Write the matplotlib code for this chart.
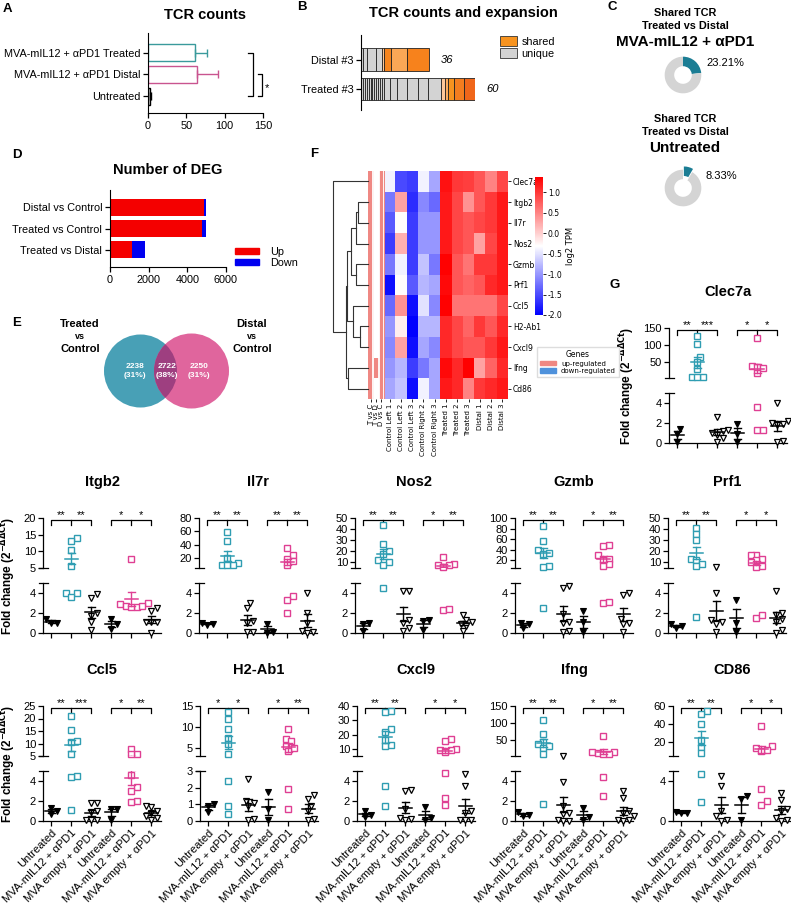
import numpy as np
import matplotlib
matplotlib.use('Agg')
import matplotlib.pyplot as plt
from matplotlib.patches import Circle, Patch
from matplotlib import transforms

plt.rcParams['font.family'] = ['Liberation Sans', 'DejaVu Sans']

# ---------------- data ----------------
# A: TCR counts (mean, upper error)
tcr_groups = ['Untreated', 'MVA-mIL12 + αPD1 Distal', 'MVA-mIL12 + αPD1 Treated']
tcr_mean = [2, 64, 61]
tcr_err = [2.5, 27, 16]

# B: clonotype sizes, unique first then shared
samples_b = ['Treated #3', 'Distal #3']
treated_unique = [1, 1, 1, 1, 1, 1, 1, 1, 1, 1, 1, 1, 3, 4, 5, 6, 5, 7]
treated_shared = [2, 2, 3, 5, 6]
distal_unique = [1, 2, 5, 3]
distal_shared = [1, 4, 8, 12]

# C: shared TCR fraction
donut_groups = ['MVA-mIL12 + \u03b1PD1', 'Untreated']
shared_pct = [23.21, 8.33]

# D: number of DEG
deg_labels = ['Treated vs Distal', 'Treated vs Control', 'Distal vs Control']
deg_up = [1140, 4750, 4870]
deg_down = [690, 210, 100]

# E: venn
venn_sets = ['Treated\nvs\nControl', 'Distal\nvs\nControl']
venn_counts = [2238, 2722, 2250]

# F: heatmap
heat_genes = ['Clec7a', 'Itgb2', 'Il7r', 'Nos2', 'Gzmb', 'Prf1', 'Ccl5', 'H2-Ab1', 'Cxcl9', 'Ifng', 'Cd86']
heat_samples = ['Control Left 1', 'Control Left 2', 'Control Left 3', 'Control Right 2', 'Control Right 3',
                'Treated 1', 'Treated 2', 'Treated 3', 'Distal 1', 'Distal 2', 'Distal 3']
heat_values = [
    [-0.4, -1.5, -1.6, -0.4, -0.9, 1.25, 1.0, 0.95, 0.8, 0.5, 0.9],
    [-1.2, 0.3, -1.7, -1.1, -1.3, 1.2, 0.9, 0.4, 0.8, 1.0, 1.2],
    [-1.4, -0.3, -1.6, -1.0, -1.0, 1.2, 0.9, 0.8, 0.9, 1.0, 1.2],
    [-1.6, 0.2, -1.6, -1.0, -1.0, 1.2, 0.9, 0.8, 0.3, 0.9, 1.2],
    [-1.2, -0.4, -1.6, -0.7, -1.2, 1.35, 0.8, 0.6, 1.0, 1.0, 1.2],
    [-1.9, -0.3, -1.4, -0.8, -0.9, 1.3, 0.8, 0.7, 0.8, 1.1, 1.2],
    [-1.3, 0.4, -1.9, -0.5, -1.1, 1.35, 0.6, 0.6, 0.6, 0.6, 0.9],
    [-1.0, -0.2, -2.0, -0.8, -0.8, 1.1, 0.9, 0.7, 1.0, 0.8, 1.1],
    [-1.1, 0.3, -1.9, -0.9, -1.1, 1.1, 0.9, 0.8, 0.8, 1.0, 1.2],
    [-1.0, -0.8, -1.6, -1.2, -0.9, 1.3, 1.1, 1.35, 0.3, 0.7, 1.1],
    [-0.9, -0.7, -1.9, -0.4, -0.9, 1.2, 1.1, 0.5, 1.0, 1.1, 1.2],
]
annot_labels = ['T vs C', 'T vs D', 'D vs C']
annot_t_vs_c = [1, 1, 1, 1, 1, 1, 1, 1, 1, 1, 1]
annot_t_vs_d = [0, 0, 0, 0, 0, 0, 0, 0, 0, 1, 0]
annot_d_vs_c = [1, 1, 1, 1, 1, 1, 1, 1, 1, 1, 1]
# linkage: (cluster a, cluster b, height), new clusters numbered from 11
dendro_merges = [(1, 2, 30), (11, 3, 37), (4, 5, 35), (12, 13, 50), (7, 8, 25),
                 (6, 15, 45), (14, 16, 63), (9, 10, 60), (17, 18, 67), (0, 19, 105)]

# G: qPCR fold change, groups = Untreated, MVA-mIL12+aPD1, MVA empty+aPD1 (treated, then distal)
group_labels = ['Untreated', 'MVA-mIL12 + \u03b1PD1', 'MVA empty + \u03b1PD1'] * 2
clec7a = [[1.4, 0.9, 0.1], [127, 104, 65, 50, 32, 9, 9, 8], [2.6, 1.3, 1.2, 1.0, 0.8, 0.5, 0.1],
          [1.9, 0.9, 0.05], [120, 40, 36, 33, 20, 3.6, 1.3, 1.3], [4.0, 2.2, 2.0, 1.9, 1.8, 0.2, 0.1]]
itgb2 = [[1.4, 1.05, 1.0], [13.9, 13.1, 10.4, 5.6, 4.0, 4.0, 3.6], [3.9, 3.5, 2.0, 1.7, 1.1, 0.3],
         [1.4, 0.9, 0.45], [7.6, 3.0, 2.9, 2.7, 2.6, 2.6, 2.7], [2.5, 2.2, 1.1, 1.1, 1.1, 0.05]]
il7r = [[1.0, 0.9, 0.85], [59, 45, 20, 12, 10, 9, 9], [3.0, 2.5, 1.2, 1.0, 0.15, 0.1],
        [0.95, 0.15, 0.05], [35, 24, 19, 15, 10, 3.7, 3.3, 2.0], [4.0, 2.0, 1.0, 0.2, 0.1, 0.05]]
nos2 = [[1.0, 0.9, 0.2], [44, 27, 20, 18, 12, 10, 8, 4.5], [4.2, 4.2, 1.3, 1.0, 0.5, 0.2],
        [1.3, 1.2, 0.3], [15, 8.5, 7.7, 7.7, 6, 2.3, 2.4], [1.8, 1.3, 1.1, 0.9, 0.7, 0.2]]
gzmb = [[1.0, 0.9, 0.5], [85, 56, 40, 34, 31, 9, 7, 2.5], [4.7, 4.5, 1.9, 1.1, 1.0, 0.1, 0.2],
        [2.2, 1.1, 0.1], [48, 46, 29, 23, 20, 12, 9, 3.0, 3.1], [4.0, 3.8, 1.4, 1.0, 0.9, 0.1]]
prf1 = [[0.9, 0.7, 0.5], [41, 36, 30, 13, 12, 9, 7, 1.6], [6.0, 4.0, 1.3, 1.1, 0.9, 0.1],
        [3.3, 1.0, 0.1], [17, 17, 13, 12, 10, 7, 6, 1.5, 1.8], [4.2, 2.0, 1.8, 1.4, 1.1, 0.3, 0.05]]
ccl5 = [[1.35, 1.0, 0.7], [21, 15.4, 11, 10.5, 6, 4.5, 4.4, 1.1], [1.8, 1.8, 1.0, 0.95, 0.1, 0.1, 0.1],
        [1.25, 1.2, 0.15], [8, 6, 5.8, 4.6, 3.4, 3.0, 2.0, 1.9], [1.5, 1.4, 1.0, 0.8, 0.5, 0.3, 0.1]]
h2ab1 = [[1.0, 0.9, 0.55], [13.6, 12, 9.4, 7.4, 6, 3.5, 2.4, 0.9, 0.45], [2.5, 1.2, 1.1, 0.9, 0.1, 0.05],
         [1.75, 0.75, 0.05], [9.5, 7.0, 6.5, 5.5, 5.0, 4.3, 1.95, 0.75], [1.55, 1.3, 0.9, 0.6, 0.1, 0.05]]
cxcl9 = [[1.0, 0.6, 0.4], [36.5, 35.5, 24, 22, 16, 13, 12, 3.5, 1.5], [3.1, 3.0, 1.2, 0.3, 0.25, 0.1],
         [1.4, 0.3, 0.1], [17, 15.5, 10, 9.5, 9, 8, 4.8, 2.3, 1.6], [4.7, 3.5, 1.0, 0.8, 0.15, 0.15, 0.1]]
ifng = [[0.95, 0.6, 0.5], [110, 68, 45, 40, 35, 28, 12, 1.7], [6, 3.9, 1.5, 0.8, 0.7, 0.1, 0.05, 0.05],
        [1.3, 0.4, 0.1], [63, 18, 16, 15, 12, 10, 4.4, 2.5], [3.0, 2.3, 1.0, 0.8, 0.5, 0.1, 0.1, 0.05]]
cd86 = [[0.95, 0.85, 0.8], [54, 51, 40, 23, 15, 8, 4.7, 1.9], [4.5, 3.5, 1.0, 0.5, 0.1, 0.05],
        [2.5, 2.2, 0.1], [38, 16, 14, 12, 11, 3.2, 2.0, 1.6], [2.8, 2.1, 1.2, 1.0, 0.3, 0.1, 0.05]]

# ---------------- styles ----------------
TEAL = '#2f9db2'
PINK = '#df3f93'
W, H = 791, 906
fig = plt.figure(figsize=(W / 100, H / 100), dpi=100)
fig.patch.set_facecolor('white')


def rect(left, top, width, height):
    return [left / W, 1 - (top + height) / H, width / W, height / H]


def ftext(x, y, s, **kw):
    fig.text(x / W, 1 - y / H, s, **kw)


def letter(x, y, s):
    ftext(x, y, s, fontsize=9.5, weight='bold', va='center', ha='left')


# ---------------- A ----------------
axA = fig.add_axes(rect(148, 33, 115, 80))
a_edges = ['black', '#c9548f', '#3a9a9c']
ya = np.arange(len(tcr_groups))
axA.barh(ya, tcr_mean, height=0.78, color='white', edgecolor=a_edges, linewidth=1)
for i in ya:
    axA.errorbar(tcr_mean[i], i, xerr=[[0], [tcr_err[i]]], fmt='none', ecolor=a_edges[i],
                 elinewidth=1, capsize=3, capthick=1)
axA.set_xlim(0, 150)
axA.set_ylim(-0.78, 2.9)
axA.set_xticks([0, 50, 100, 150])
axA.set_yticks(ya)
axA.set_yticklabels(tcr_groups)
axA.tick_params(labelsize=7.8, length=3.5, width=0.9, pad=2)
axA.spines[['top', 'right']].set_visible(False)
# significance brackets
axA.plot([130, 137, 137, 130], [2, 2, 0, 0], color='black', lw=0.9, clip_on=False)
axA.plot([143, 149, 149, 143], [1, 1, 0, 0], color='black', lw=0.9, clip_on=False)
axA.text(152, 0.35, '*', fontsize=8, ha='left', va='center')
ftext(205, 15, 'TCR counts', fontsize=10.5, weight='bold', ha='center', va='center')
letter(3, 9, 'A')

# ---------------- B ----------------
axB = fig.add_axes(rect(361, 35, 114, 75))
b_sets = [(treated_unique, treated_shared, ['#fcc79a', '#fbab5e', '#f7931f', '#f47d1f', '#f0661a']),
          (distal_unique, distal_shared, ['#fcc89a', '#f6841d', '#faa756', '#f7821c'])]
for yi, (uniq, shared, scol) in enumerate(b_sets):
    segs = list(uniq) + list(shared)
    cols = ['#d3d3d3'] * len(uniq) + scol
    lefts = np.concatenate([[0], np.cumsum(segs)[:-1]])
    axB.barh(yi, segs, left=lefts, height=0.76, color=cols, edgecolor='#222222', linewidth=0.6)
    total = int(np.sum(segs))
    axB.text(total + 6, yi, str(total), fontsize=8, style='italic', va='center', ha='left')
axB.set_xlim(0, 60)
axB.set_ylim(-0.71, 1.83)
axB.set_yticks([0, 1])
axB.set_yticklabels(samples_b)
axB.set_xticks([])
axB.tick_params(labelsize=7.8, length=3.5, width=0.9, pad=2)
axB.spines[['top', 'right', 'bottom']].set_visible(False)
fig.legend(handles=[Patch(facecolor='#f7931f', edgecolor='#333333', lw=0.6, label='shared'),
                    Patch(facecolor='#d3d3d3', edgecolor='#333333', lw=0.6, label='unique')],
           loc='upper left', bbox_to_anchor=(500 / W, 1 - 36 / H), frameon=False, fontsize=7.8,
           handlelength=1.6, handleheight=1.0, labelspacing=0.15, handletextpad=0.4,
           borderaxespad=0, borderpad=0)
ftext(463, 13, 'TCR counts and expansion', fontsize=10.5, weight='bold', ha='center', va='center')
letter(297, 7, 'B')

# ---------------- C ----------------
letter(607, 7, 'C')
donut_y = [75, 188]
title_y = [13, 119]
for k in range(2):
    ftext(685, title_y[k], 'Shared TCR', fontsize=7.8, weight='bold', ha='center', va='center')
    ftext(685, title_y[k] + 13, 'Treated vs Distal', fontsize=7.8, weight='bold', ha='center', va='center')
    ftext(685, title_y[k] + 29, donut_groups[k], fontsize=11, weight='bold', ha='center', va='center')
    axc = fig.add_axes(rect(661, donut_y[k] - 22, 44, 44))
    axc.pie([shared_pct[k], 100 - shared_pct[k]], colors=['#1b7d94', '#d4d4d4'], startangle=90,
            counterclock=False, explode=[0.0 if k == 0 else 0.18, 0],
            wedgeprops=dict(width=0.52, linewidth=0))
    axc.set_xlim(-1.2, 1.2)
    axc.set_ylim(-1.2, 1.2)
    axc.set_aspect('equal')
    axc.axis('off')
    ftext(706, donut_y[k] - 12, f'{shared_pct[k]:.2f}%', fontsize=8, ha='left', va='center')

# ---------------- D ----------------
axD = fig.add_axes(rect(110, 190, 116, 77))
yd = np.arange(len(deg_labels))
axD.barh(yd, deg_up, height=0.8, color='#f40000', label='Up')
axD.barh(yd, deg_down, left=deg_up, height=0.8, color='#0000f0', label='Down')
axD.set_xlim(0, 6000)
axD.set_ylim(-0.8, 2.82)
axD.set_xticks([0, 2000, 4000, 6000])
axD.set_yticks(yd)
axD.set_yticklabels(deg_labels)
axD.tick_params(labelsize=7.8, length=3.5, width=0.9, pad=2)
axD.spines[['top', 'right']].set_visible(False)
fig.legend(handles=[Patch(color='#f40000', label='Up'), Patch(color='#0000f0', label='Down')],
           loc='upper left', bbox_to_anchor=(235 / W, 1 - 247 / H), frameon=False, fontsize=7.8,
           handlelength=2.2, handleheight=0.5, labelspacing=0.05, handletextpad=1.0,
           borderaxespad=0, borderpad=0)
ftext(168, 170, 'Number of DEG', fontsize=10.5, weight='bold', ha='center', va='center')
letter(12, 155, 'D')

# ---------------- E ----------------
axE = fig.add_axes(rect(0, 300, 290, 120))
axE.set_xlim(0, 290)
axE.set_ylim(120, 0)
axE.axis('off')
c1 = Circle((140.5, 71), 36.5, color='#48a0b6', lw=0)
c2 = Circle((191.5, 71), 37.5, color='#e0659d', lw=0)
c3 = Circle((191.5, 71), 37.5, color='#9e3f80', lw=0)
axE.add_patch(c1)
axE.add_patch(c2)
axE.add_patch(c3)
c3.set_clip_path(c1)
tot = sum(venn_counts)
for cx, n in zip([135, 167, 199], venn_counts):
    axE.text(cx, 71, f'{n}\n({n / tot * 100:.0f}%)', color='white', fontsize=6, weight='bold',
             ha='center', va='center', linespacing=1.3)
for cx, s in zip([80, 252], venn_sets):
    a, v, b = s.split('\n')
    axE.text(cx, 24, a, fontsize=8, weight='bold', ha='center', va='center')
    axE.text(cx, 37, v, fontsize=6.5, weight='bold', ha='center', va='center')
    axE.text(cx, 49, b, fontsize=8, weight='bold', ha='center', va='center')
letter(12, 323, 'E')

# ---------------- F ----------------
letter(310, 154, 'F')
hv = np.array(heat_values)
axH = fig.add_axes(rect(384, 171, 124, 228))
im = axH.imshow(hv, cmap='bwr', vmin=-2, vmax=1.37, aspect='auto', interpolation='nearest')
axH.yaxis.tick_right()
axH.set_yticks(range(len(heat_genes)))
axH.set_yticklabels(heat_genes, fontsize=5.5, family='DejaVu Sans')
axH.set_xticks(range(len(heat_samples)))
axH.set_xticklabels(heat_samples, rotation=90, fontsize=5, family='DejaVu Sans')
axH.tick_params(length=2, width=0.6, pad=1.5)
for s in axH.spines.values():
    s.set_visible(False)

UPC, DOWNC = '#ef8883', '#4f92dc'
annot = np.array([annot_t_vs_c, annot_t_vs_d, annot_d_vs_c]).T
axN = fig.add_axes(rect(368, 171, 16, 228))
rgb = np.where(annot[..., None] == 1, np.array(matplotlib.colors.to_rgb(UPC)), np.ones(3))
axN.imshow(rgb, aspect='auto', interpolation='nearest')
for xx in (0.5, 1.5, 2.5):
    axN.axvline(xx, color='white', lw=1.3)
axN.set_yticks([])
axN.set_xticks(range(3))
axN.set_xticklabels(annot_labels, rotation=90, fontsize=5, family='DejaVu Sans')
axN.tick_params(length=2, width=0.6, pad=1.5)
for s in axN.spines.values():
    s.set_visible(False)

axT = fig.add_axes(rect(333, 171, 35, 228))
pos = {i: float(i) for i in range(len(heat_genes))}
hgt = {i: 0.0 for i in range(len(heat_genes))}
for n, (a, b, h) in enumerate(dendro_merges):
    axT.plot([hgt[a], h, h, hgt[b]], [pos[a], pos[a], pos[b], pos[b]], color='#333333', lw=0.8,
             clip_on=False)
    new = len(heat_genes) + n
    pos[new] = (pos[a] + pos[b]) / 2
    hgt[new] = h
axT.set_xlim(105, 0)
axT.set_ylim(len(heat_genes) - 0.5, -0.5)
axT.axis('off')

cax = fig.add_axes(rect(535, 177, 8, 138))
cb = fig.colorbar(im, cax=cax, ticks=[-2, -1.5, -1, -0.5, 0, 0.5, 1.0], format='%.1f')
cb.outline.set_visible(False)
cb.ax.tick_params(labelsize=5.5, length=2, width=0.6, pad=1.5)
for t in cb.ax.get_yticklabels():
    t.set_family('DejaVu Sans')
cb.set_label('log2 TPM', fontsize=6, family='DejaVu Sans', labelpad=2)
leg = fig.legend(handles=[Patch(color=UPC, label='up-regulated'), Patch(color=DOWNC, label='down-regulated')],
                 title='Genes', loc='upper left', bbox_to_anchor=(534 / W, 1 - 344 / H),
                 fontsize=5, title_fontsize=5.5, prop={'family': 'DejaVu Sans', 'size': 5},
                 handlelength=2.2, handleheight=0.6, labelspacing=0.2, borderpad=0.4,
                 framealpha=1, edgecolor='#dddddd', fancybox=False)
leg.get_title().set_family('DejaVu Sans')

# ---------------- G ----------------
GSTYLE = [
    dict(marker='v', mfc='black', mec='black', ms=3.8, mew=0.8, c='black'),
    dict(marker='s', mfc='white', mec=TEAL, ms=4.2, mew=1.0, c=TEAL),
    dict(marker='v', mfc='white', mec='black', ms=4.4, mew=0.9, c='black'),
    dict(marker='v', mfc='black', mec='black', ms=3.8, mew=0.8, c='black'),
    dict(marker='s', mfc='white', mec=PINK, ms=4.2, mew=1.0, c=PINK),
    dict(marker='v', mfc='white', mec='black', ms=4.4, mew=0.9, c='black'),
]


def swarm(ys, d=5.5):
    offs = np.zeros(len(ys))
    placed = []
    cands = [0.0] + [s * k * d / 2 for k in range(1, 14) for s in (1, -1)]
    for i in np.argsort(ys):
        for dx in cands:
            if all(np.hypot(dx - px_, ys[i] - py) >= d for px_, py in placed):
                break
        offs[i] = dx
        placed.append((dx, ys[i]))
    return offs


def dot_panel(left, top, title, groups, ulim, uticks, lmax, lticks, stars,
              xlabels=False, ylab_off=None):
    w = 118
    ax_u = fig.add_axes(rect(left, top, w, 50))
    ax_l = fig.add_axes(rect(left, top + 65, w, 50))
    for ax in (ax_u, ax_l):
        ax.set_xlim(-0.42, 5.48)
        ax.spines[['top', 'right']].set_visible(False)
        ax.spines['left'].set_linewidth(0.9)
        ax.spines['bottom'].set_linewidth(0.9)
        ax.tick_params(labelsize=8, length=3.5, width=0.9, pad=1.5)
        ax.patch.set_alpha(0)
    ax_u.spines['bottom'].set_visible(False)
    ax_u.set_xticks([])
    ax_u.set_ylim(*ulim)
    ax_u.set_yticks(uticks)
    ax_l.set_ylim(0, lmax)
    ax_l.set_yticks(lticks)
    ax_l.set_xticks(range(6))
    if xlabels:
        ax_l.set_xticklabels(group_labels, rotation=45, ha='right', rotation_mode='anchor', fontsize=8)
    else:
        ax_l.set_xticklabels([])
    for ax, yy in ((ax_u, 0), (ax_l, 1)):
        ax.plot([-4 / w, 5 / w], [yy, yy], transform=ax.transAxes, color='black', lw=0.9, clip_on=False)

    def px(v):
        if v < lmax:
            return v / lmax * 50
        return 65 + (v - ulim[0]) / (ulim[1] - ulim[0]) * 50

    for gi, vals in enumerate(groups):
        st = GSTYLE[gi]
        vals = np.array(vals, dtype=float)
        xs = gi + swarm([px(v) for v in vals]) / 20
        lo = vals < lmax
        for ax, m in ((ax_l, lo), (ax_u, ~lo)):
            ax.plot(xs[m], vals[m], ls='none', marker=st['marker'], mfc=st['mfc'], mec=st['mec'],
                    ms=st['ms'], mew=st['mew'], clip_on=False, zorder=3)
        mean = vals.mean()
        sem = vals.std(ddof=1) / np.sqrt(len(vals))
        for ax in (ax_u, ax_l):
            ax.plot([gi - 0.32, gi + 0.32], [mean, mean], color=st['c'], lw=1.1, zorder=4)
            ax.plot([gi, gi], [mean - sem, mean + sem], color=st['c'], lw=1.0, zorder=4)
            for e in (mean - sem, mean + sem):
                ax.plot([gi - 0.16, gi + 0.16], [e, e], color=st['c'], lw=1.0, zorder=4)
    tr = transforms.blended_transform_factory(ax_u.transData, ax_u.transAxes)
    for g0, (s1, s2) in zip((0, 3), stars):
        ax_u.plot([g0, g0, g0 + 2, g0 + 2], [0.87, 0.97, 0.97, 0.87], transform=tr, color='black',
                  lw=0.9, clip_on=False)
        ax_u.plot([g0 + 1, g0 + 1], [0.87, 0.97], transform=tr, color='black', lw=0.9, clip_on=False)
        ax_u.text(g0 + 0.5, 0.99, s1, transform=tr, fontsize=8, ha='center', va='baseline')
        ax_u.text(g0 + 1.5, 0.99, s2, transform=tr, fontsize=8, ha='center', va='baseline')
    ftext(left + 59, top - 36, title, fontsize=10.5, weight='bold', ha='center', va='center')
    if ylab_off is not None:
        ftext(left - ylab_off, top + 57.5, r'Fold change (2$^{\mathbf{-\Delta\Delta Ct}}$)',
              fontsize=8.5, weight='bold', rotation=90, ha='center', va='center')


letter(610, 285, 'G')
dot_panel(669, 328, 'Clec7a', clec7a, (5, 150), [50, 100, 150], 5, [0, 2, 4],
          [('**', '***'), ('*', '*')], ylab_off=42)

row2_left = [43, 199, 355, 515, 668]
row3_left = [43, 200, 357, 515, 673]
dot_panel(row2_left[0], 518, 'Itgb2', itgb2, (5, 20), [5, 10, 15, 20], 5, [0, 2, 4],
          [('**', '**'), ('*', '*')], ylab_off=35)
dot_panel(row2_left[1], 518, 'Il7r', il7r, (5, 80), [20, 40, 60, 80], 5, [0, 2, 4],
          [('**', '**'), ('**', '**')])
dot_panel(row2_left[2], 518, 'Nos2', nos2, (5, 50), [10, 20, 30, 40, 50], 5, [0, 2, 4],
          [('**', '**'), ('*', '**')])
dot_panel(row2_left[3], 518, 'Gzmb', gzmb, (5, 100), [20, 40, 60, 80, 100], 5, [0, 2, 4],
          [('**', '**'), ('*', '**')])
dot_panel(row2_left[4], 518, 'Prf1', prf1, (5, 50), [10, 20, 30, 40, 50], 5, [0, 2, 4],
          [('**', '**'), ('*', '*')])

dot_panel(row3_left[0], 706, 'Ccl5', ccl5, (5, 25), [5, 10, 15, 20, 25], 5, [0, 2, 4],
          [('**', '***'), ('*', '**')], xlabels=True, ylab_off=35)
dot_panel(row3_left[1], 706, 'H2-Ab1', h2ab1, (3, 15), [5, 10, 15], 3, [0, 1, 2, 3],
          [('*', '*'), ('*', '**')], xlabels=True)
dot_panel(row3_left[2], 706, 'Cxcl9', cxcl9, (5, 40), [10, 20, 30, 40], 5, [0, 2, 4],
          [('**', '**'), ('*', '*')], xlabels=True)
dot_panel(row3_left[3], 706, 'Ifng', ifng, (5, 150), [50, 100, 150], 5, [0, 2, 4],
          [('**', '**'), ('*', '**')], xlabels=True)
dot_panel(row3_left[4], 706, 'CD86', cd86, (5, 60), [20, 40, 60], 5, [0, 4],
          [('**', '**'), ('*', '*')], xlabels=True)

fig.savefig('out.png', dpi=100, facecolor='white')
